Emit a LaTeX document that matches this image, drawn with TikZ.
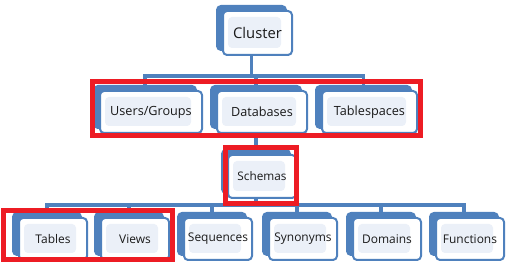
\documentclass[tikz,border=0pt]{standalone}
\usepackage{fontspec}
\setmainfont{Open Sans}
\usepackage{tikz}
\usetikzlibrary{calc,positioning,backgrounds}

\definecolor{boxblue}{RGB}{79,129,189}
\definecolor{innerfill}{RGB}{235,240,248}
\definecolor{markred}{RGB}{237,28,36}

\tikzset{
	backbox/.style={draw=boxblue,fill=boxblue,line width=0.4mm,rounded corners=0.8mm,inner sep=0pt},
	frontbox/.style={draw=boxblue,fill=white,line width=0.4mm,rounded corners=0.8mm,inner sep=0pt,text=black!90,
		path picture={\fill[innerfill] ([xshift=1mm,yshift=1.4mm]path picture bounding box.south west) rectangle ([xshift=-2.2mm,yshift=-1.2mm]path picture bounding box.north east);}},
	link/.style={draw=boxblue,line width=0.7mm},
	redframe/.style={draw=markred,line width=1mm}
}

\begin{document}
\begin{tikzpicture}
				%\draw[color=gray,step=1mm, help lines,opacity=0.3] (0pt,0pt) grid (102.4mm,54.4mm); %help grids
				\useasboundingbox (0mm,0mm) rectangle (102.4mm,54.4mm);

				% top
				\node[backbox,minimum width=13.8mm,minimum height=8.8mm] (cluster-b) at (50.3mm,48.8mm) {};
				\node[frontbox,minimum width=13.8mm,minimum height=8.8mm,font=\fontsize{8.4}{9}\selectfont] (cluster) at (51.5mm,47.8mm) {Cluster};

				% second row
				\node[backbox,minimum width=20.4mm,minimum height=8.4mm] (users-b) at (29mm,33mm) {};
				\node[frontbox,minimum width=20.4mm,minimum height=8.4mm,font=\fontsize{7.2}{8}\selectfont] (users) at (30.2mm,32mm) {Users/Groups};
				\node[backbox,minimum width=18mm,minimum height=8.4mm] (databases-b) at (51.2mm,33mm) {};
				\node[frontbox,minimum width=18mm,minimum height=8.4mm,font=\fontsize{7.2}{8}\selectfont] (databases) at (52.4mm,32mm) {Databases};
				\node[backbox,minimum width=19mm,minimum height=8.4mm] (tablespaces-b) at (72.7mm,33mm) {};
				\node[frontbox,minimum width=19mm,minimum height=8.4mm,font=\fontsize{7.2}{8}\selectfont] (tablespaces) at (73.9mm,32mm) {Tablespaces};

				% schemas
				\node[backbox,minimum width=13.6mm,minimum height=8.6mm] (schemas-b) at (51.2mm,20.1mm) {};
				\node[frontbox,minimum width=13.6mm,minimum height=8.6mm,font=\fontsize{6.7}{8}\selectfont] (schemas) at (52.4mm,19.1mm) {Schemas};

				% bottom row
				\node[backbox,minimum width=13.6mm,minimum height=8.4mm] (tables-b) at (9.4mm,7.6mm) {};
				\node[frontbox,minimum width=13.6mm,minimum height=8.4mm,font=\fontsize{6.8}{8}\selectfont] (tables) at (10.6mm,6.6mm) {Tables};
				\node[backbox,minimum width=13.6mm,minimum height=8.4mm] (views-b) at (25.8mm,7.6mm) {};
				\node[frontbox,minimum width=13.6mm,minimum height=8.4mm,font=\fontsize{6.8}{8}\selectfont] (views) at (27mm,6.6mm) {Views};
				\node[backbox,minimum width=13.6mm,minimum height=8.4mm] (sequences-b) at (42.4mm,7.6mm) {};
				\node[frontbox,minimum width=13.6mm,minimum height=8.4mm,font=\fontsize{6.8}{8}\selectfont] (sequences) at (43.6mm,6.6mm) {Sequences};
				\node[backbox,minimum width=13.6mm,minimum height=8.4mm] (synonyms-b) at (59.4mm,7.6mm) {};
				\node[frontbox,minimum width=13.6mm,minimum height=8.4mm,font=\fontsize{6.8}{8}\selectfont] (synonyms) at (60.6mm,6.6mm) {Synonyms};
				\node[backbox,minimum width=13.6mm,minimum height=8.4mm] (domains-b) at (76.2mm,7.6mm) {};
				\node[frontbox,minimum width=13.6mm,minimum height=8.4mm,font=\fontsize{6.8}{8}\selectfont] (domains) at (77.4mm,6.6mm) {Domains};
				\node[backbox,minimum width=13.6mm,minimum height=8.4mm] (functions-b) at (92.8mm,7.6mm) {};
				\node[frontbox,minimum width=13.6mm,minimum height=8.4mm,font=\fontsize{6.8}{8}\selectfont] (functions) at (94mm,6.6mm) {Functions};

				% connectors
				\coordinate (bar1) at (0mm,39.2mm);
				\coordinate (bar2) at (0mm,13.4mm);
				\begin{scope}[on background layer]
				\draw[link] (cluster-b.south) |- (users-b.north|-bar1) -- (users-b.north);
				\draw[link] (cluster-b.south) |- (databases-b.north|-bar1) -- (databases-b.north);
				\draw[link] (cluster-b.south) |- (tablespaces-b.north|-bar1) -- (tablespaces-b.north);
				\draw[link] (databases-b.south) -- (schemas-b.north);
				\draw[link] (schemas-b.south) |- (tables-b.north|-bar2) -- (tables-b.north);
				\draw[link] (schemas-b.south) |- (views-b.north|-bar2) -- (views-b.north);
				\draw[link] (schemas-b.south) |- (sequences-b.north|-bar2) -- (sequences-b.north);
				\draw[link] (schemas-b.south) |- (synonyms-b.north|-bar2) -- (synonyms-b.north);
				\draw[link] (schemas-b.south) |- (domains-b.north|-bar2) -- (domains-b.north);
				\draw[link] (schemas-b.south) |- (functions-b.north|-bar2) -- (functions-b.north);
				\end{scope}

				% red marks
				\draw[redframe] (18.5mm,27.3mm) rectangle (84.1mm,38.1mm);
				\draw[redframe] (45mm,13.6mm) rectangle (59.2mm,24.9mm);
				\draw[redframe] (0.7mm,2.5mm) rectangle (34.5mm,12.3mm);
\end{tikzpicture}
\end{document}
